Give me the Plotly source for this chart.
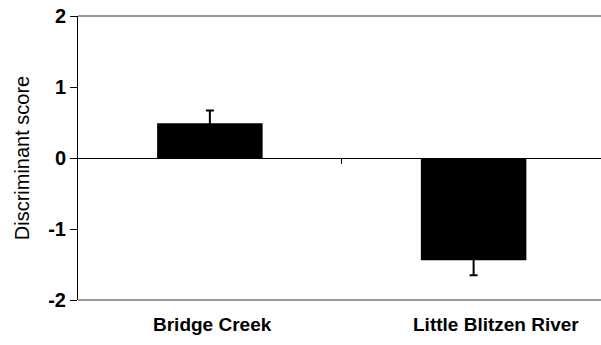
import plotly.graph_objects as go

# Discriminant scores (mean ± SE) for two streams
sites = ["Bridge Creek", "Little Blitzen River"]
scores = [0.49, -1.44]
errors = [0.18, 0.21]
y_ticks = [2, 1, 0, -1, -2]

positions = list(range(len(sites)))
FONT = "Liberation Sans, Arial, sans-serif"

fig = go.Figure()
fig.add_trace(go.Bar(
    x=positions,
    y=scores,
    width=0.4,
    marker=dict(color="black", line=dict(width=0)),
    error_y=dict(type="data", array=errors, symmetric=True,
                 color="black", thickness=2, width=4),
    showlegend=False,
))

# Site names under the frame
for pos, name in zip(positions, sites):
    fig.add_annotation(
        x=pos, y=0, xref="x", yref="paper", yanchor="top",
        yshift=-12, xshift=3 if pos == 0 else 22,
        text=name, showarrow=False,
        font=dict(family=FONT, size=19, color="black", weight="bold"),
    )

# Frame lines along top and bottom of the plotting area
for yy in (0, 1):
    fig.add_shape(type="line", xref="paper", yref="paper",
                  x0=0, x1=1, y0=yy, y1=yy,
                  line=dict(color="#333333", width=1))

fig.update_layout(
    width=601, height=345,
    margin=dict(l=78, r=0, t=16, b=45),
    paper_bgcolor="white", plot_bgcolor="white",
    xaxis=dict(
        range=[-0.5, 1.483],
        anchor="free", position=0.5,
        showline=True, linecolor="black", linewidth=1,
        tickvals=[0.5], ticktext=[""], ticks="outside",
        ticklen=5, tickcolor="black", tickwidth=1,
        showgrid=False, zeroline=False,
    ),
    yaxis=dict(
        range=[-2, 2],
        tickvals=y_ticks, ticktext=[str(v) for v in y_ticks],
        ticks="outside", ticklen=7, tickcolor="black",
        showline=True, linecolor="black", linewidth=1,
        showgrid=False, zeroline=False,
        tickfont=dict(family=FONT, size=20, color="black", weight="bold"),
        title=dict(text="Discriminant score", standoff=13,
                   font=dict(family=FONT, size=20, color="black")),
    ),
)

fig.write_html("out.html")
